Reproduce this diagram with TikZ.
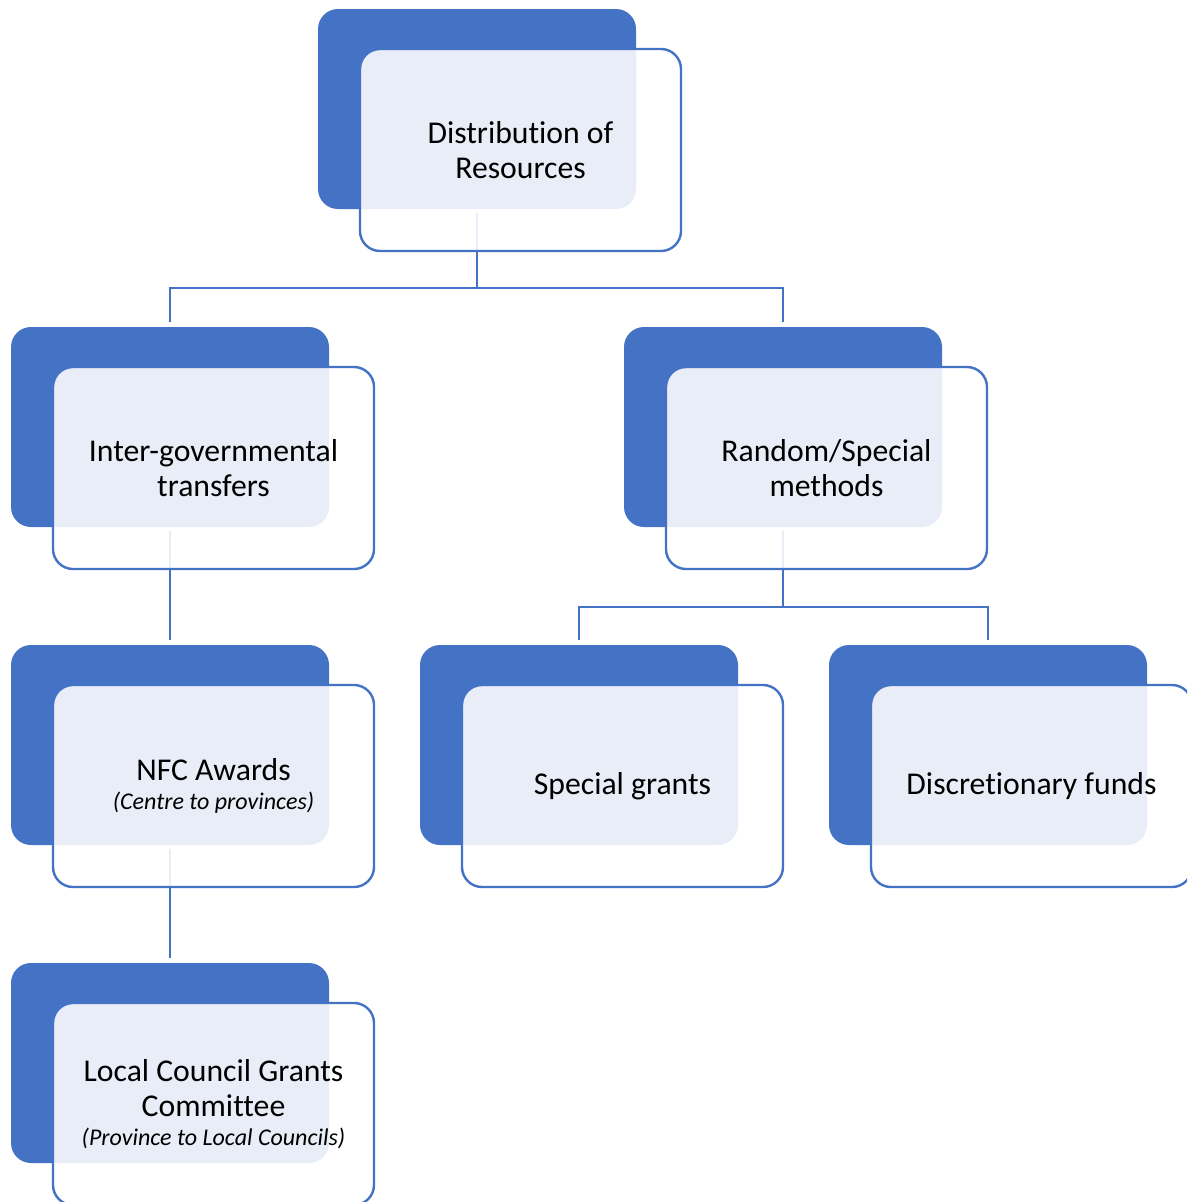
\documentclass[tikz,border=0pt]{standalone}
\usepackage{fontspec}
\setmainfont{Carlito}[Ligatures=NoCommon]
\definecolor{accent}{HTML}{4472C4}
\begin{document}
\begin{tikzpicture}[x=1pt,y=-1pt,
  backbox/.style={fill=accent, draw=none, rounded corners=20pt,
    minimum width=318pt, minimum height=200pt, inner sep=0pt},
  frontbox/.style={fill=white, fill opacity=0.88, text opacity=1,
    draw=accent, draw opacity=1, line width=2.4pt, rounded corners=20pt,
    minimum width=321pt, minimum height=202pt, inner sep=0pt,
    align=center, text=black, font=\fontsize{31.7}{35}\selectfont},
  conn/.style={draw=accent, line width=2.4pt}]
\useasboundingbox (0,0) rectangle (1187,1202);
\clip (0,0) rectangle (1187,1202);
\newcommand{\subline}[1]{{\fontsize{24}{29}\selectfont\itshape #1}}
% back boxes
\node[backbox] (b1) at (477,109) {};
\node[backbox] (b2) at (170,427) {};
\node[backbox] (b3) at (783,427) {};
\node[backbox] (b4) at (170,745) {};
\node[backbox] (b5) at (579,745) {};
\node[backbox] (b6) at (988,745) {};
\node[backbox] (b7) at (170,1063) {};
% connectors
\draw[conn] ([yshift=-4pt]b1.south) -- ++(0,75) -| ([yshift=5pt]b2.north);
\draw[conn] ([yshift=-4pt]b1.south) -- ++(0,75) -| ([yshift=5pt]b3.north);
\draw[conn] ([yshift=-4pt]b2.south) -- ([yshift=5pt]b4.north);
\draw[conn] ([yshift=-4pt]b3.south) -- ++(0,76) -| ([yshift=5pt]b5.north);
\draw[conn] ([yshift=-4pt]b3.south) -- ++(0,76) -| ([yshift=5pt]b6.north);
\draw[conn] ([yshift=-4pt]b4.south) -- ([yshift=5pt]b7.north);
% front boxes
\node[frontbox] (f1) at ([shift={(43.5pt,-41pt)}]b1.center) {Distribution of\\Resources};
\node[frontbox] (f2) at ([shift={(43.5pt,-41pt)}]b2.center) {Inter-governmental\\transfers};
\node[frontbox] (f3) at ([shift={(43.5pt,-41pt)}]b3.center) {Random/Special\\methods};
\node[frontbox] (f4) at ([shift={(43.5pt,-41pt)}]b4.center) {NFC Awards\\[-6pt]\subline{(Centre to provinces)}};
\node[frontbox] (f5) at ([shift={(43.5pt,-41pt)}]b5.center) {Special grants};
\node[frontbox] (f6) at ([shift={(43.5pt,-41pt)}]b6.center) {Discretionary funds};
\node[frontbox] (f7) at ([shift={(43.5pt,-41pt)}]b7.center) {Local Council Grants\\Committee\\[-6pt]\subline{(Province to Local Councils)}};
\end{tikzpicture}
\end{document}
